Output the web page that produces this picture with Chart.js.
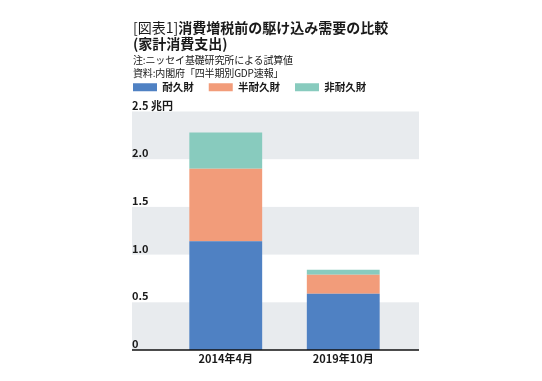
<!DOCTYPE html>
<html>
<head>
<meta charset="utf-8">
<script src="https://cdn.jsdelivr.net/npm/chart.js@4.4.1/dist/chart.umd.min.js"></script>
<style>
  html, body { margin: 0; padding: 0; background: #fff; }
  #wrap { position: relative; width: 542px; height: 381px; }
  #head { position: absolute; left: 133px; top: 19px; font-family: "Noto Sans CJK JP", sans-serif; color: #1a1a1a; z-index: 2; }
  .t { font-size: 14px; font-weight: bold; line-height: 16px; }
  .t span { font-weight: normal; }
  .n { font-size: 10px; line-height: 13px; letter-spacing: -0.15px; }
  .n1 { margin-top: 2px; }
  canvas { position: absolute; left: 0; top: 0; }
</style>
</head>
<body>
<div id="wrap">
  <div id="head">
    <div class="t"><span>[図表1]</span>消費増税前の駆け込み需要の比較</div>
    <div class="t">(家計消費支出)</div>
    <div class="n n1">注:ニッセイ基礎研究所による試算値</div>
    <div class="n">資料:内閣府「四半期別GDP速報」</div>
  </div>
  <canvas id="chart" width="542" height="381"></canvas>
</div>
<script>
  const categories = ["2014年4月", "2019年10月"];
  const durable = [1.14, 0.59];
  const semiDurable = [0.76, 0.20];
  const nonDurable = [0.38, 0.05];
  const yTicks = [0, 0.5, 1.0, 1.5, 2.0, 2.5];

  const jp = "'Noto Sans CJK JP', sans-serif";
  const legendPad = 15;
  const axisW = 35;

  // grey bands every other step + the black baseline
  const bands = {
    id: "bands",
    afterLayout(chart) {
      // move the legend row up/left to where the original has it
      chart.legend.left = 133 - legendPad;
      chart.legend.top = 88 - legendPad - 6;
    },
    beforeDraw(chart) {
      const { ctx, chartArea, scales } = chart;
      const y = scales.y;
      const left = chartArea.left - axisW;
      const right = chartArea.right + 17;
      ctx.save();
      ctx.fillStyle = "#e8ebee";
      for (let i = 0; i < yTicks.length - 1; i += 2) {
        const top = y.getPixelForValue(yTicks[i + 1]);
        const bottom = y.getPixelForValue(yTicks[i]);
        ctx.fillRect(left, top, right - left, bottom - top);
      }
      ctx.restore();
    },
    afterDatasetsDraw(chart) {
      const { ctx, chartArea, scales } = chart;
      const y0 = scales.y.getPixelForValue(0);
      ctx.save();
      ctx.strokeStyle = "#111";
      ctx.lineWidth = 1.5;
      ctx.beginPath();
      ctx.moveTo(chartArea.left - axisW, y0);
      ctx.lineTo(chartArea.right + 17, y0);
      ctx.stroke();
      ctx.restore();
    },
  };

  new Chart(document.getElementById("chart"), {
    type: "bar",
    data: {
      labels: categories,
      datasets: [
        { label: "耐久財", data: durable, backgroundColor: "#4f81c3" },
        { label: "半耐久財", data: semiDurable, backgroundColor: "#f29c7a" },
        { label: "非耐久財", data: nonDurable, backgroundColor: "#88cbbe" },
      ],
    },
    options: {
      responsive: false,
      animation: false,
      layout: { padding: { left: 132, right: 140, top: 76, bottom: 14 } },
      datasets: {
        bar: { barPercentage: 1, categoryPercentage: 0.62 },
      },
      scales: {
        x: {
          stacked: true,
          grid: { display: false, drawTicks: false },
          border: { display: false },
          ticks: {
            color: "#1a1a1a",
            padding: 3,
            font: { family: jp, size: 11, weight: "bold", lineHeight: 1 },
          },
        },
        y: {
          stacked: true,
          min: 0,
          max: 2.5,
          afterFit: (scale) => {
            scale.width = axisW;
          },
          afterBuildTicks: (scale) => {
            scale.ticks = yTicks.map((v) => ({ value: v }));
          },
          grid: { display: false, drawTicks: false },
          border: { display: false },
          ticks: {
            autoSkip: false,
            mirror: true,
            crossAlign: "near",
            color: "#1a1a1a",
            labelOffset: -6,
            padding: -axisW,
            font: { family: jp, size: 11, weight: "bold", lineHeight: 1 },
            callback: (v) => {
              if (v === 0) return "0";
              if (v === 2.5) return "2.5 兆円";
              return v.toFixed(1);
            },
          },
        },
      },
      plugins: {
        legend: {
          position: "top",
          align: "start",
          labels: {
            boxWidth: 24,
            boxHeight: 8,
            padding: legendPad,
            color: "#1a1a1a",
            font: { family: jp, size: 10.5, weight: "bold" },
          },
        },
        tooltip: { enabled: false },
      },
    },
    plugins: [bands],
  });
</script>
</body>
</html>
